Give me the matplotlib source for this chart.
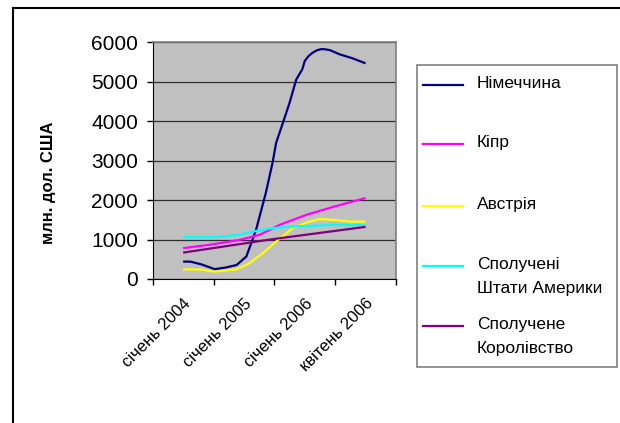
import matplotlib.pyplot as plt
from matplotlib.lines import Line2D
from matplotlib.patches import Rectangle

plt.rcParams['font.family'] = ['Liberation Sans', 'DejaVu Sans']

# category labels (x axis has 4 categories, labels at the centres)
categories = ['січень 2004', 'січень 2005', 'січень 2006', 'квітень 2006']

# values, x in category units
germany_x = [0.5, 0.62, 0.8, 1.02, 1.2, 1.38, 1.54, 1.7, 1.86, 1.97, 2.03,
             2.14, 2.25, 2.36, 2.46, 2.5, 2.56, 2.63, 2.7, 2.77, 2.84, 2.92,
             3.07, 3.28, 3.5]
germany_y = [440, 440, 370, 250, 290, 355, 570, 1250, 2180, 2940, 3450,
             3950, 4460, 5050, 5310, 5520, 5640, 5730, 5790, 5820, 5815, 5790,
             5690, 5590, 5460]

cyprus_x = [0.5, 1.0, 1.43, 1.76, 2.09, 2.53, 3.0, 3.5]
cyprus_y = [780, 880, 990, 1118, 1372, 1626, 1840, 2050]

austria_x = [0.5, 0.8, 1.02, 1.38, 1.59, 1.81, 2.03, 2.3, 2.53, 2.74, 2.96, 3.23, 3.5]
austria_y = [246, 240, 186, 246, 398, 652, 948, 1287, 1430, 1516, 1500, 1455, 1450]

usa_x = [0.5, 1.02, 1.43, 1.65, 1.97, 2.3, 2.63, 2.96, 3.5]
usa_y = [1058, 1058, 1118, 1202, 1287, 1330, 1346, 1372, 1360]

uk_x = [0.5, 1.97, 3.5]
uk_y = [668, 1008, 1320]

names = ['Німеччина', 'Кіпр', 'Австрія', 'Сполучені\nШтати Америки', 'Сполучене\nКоролівство']
colors = ['#000080', '#ff00ff', '#ffff00', '#00ffff', '#800080']
xs = [germany_x, cyprus_x, austria_x, usa_x, uk_x]
ys = [germany_y, cyprus_y, austria_y, usa_y, uk_y]

W, H = 620, 423
fig = plt.figure(figsize=(6.2, 4.23), dpi=100)
ax = fig.add_axes([152.7 / W, 1 - 279 / H, (396 - 152.7) / W, (279 - 42) / H])
ax.set_facecolor('#c0c0c0')

for x, y, c in zip(xs, ys, colors):
    ax.plot(x, y, color=c, lw=1.6, solid_capstyle='butt', solid_joinstyle='round')

ax.set_xlim(0, 4)
ax.set_ylim(0, 6000)
ax.set_yticks(range(0, 7000, 1000))
ax.yaxis.grid(True, color='#303030', lw=0.9)
ax.set_axisbelow(True)

ax.set_xticks([0, 1, 2, 3, 4])
ax.set_xticklabels([])
ax.set_xticks([0.5, 1.5, 2.5, 3.5], minor=True)
ax.set_xticklabels(categories, minor=True, rotation=45, ha='right',
                   rotation_mode='anchor', fontsize=12)
ax.tick_params(axis='x', which='minor', length=0, pad=12)
ax.tick_params(which='major', direction='out', length=4.5, width=1, color='black')
ax.tick_params(axis='y', labelsize=15, pad=6)

for s in ['top', 'right']:
    ax.spines[s].set_color('#808080')
    ax.spines[s].set_linewidth(1.2)
for s in ['left', 'bottom']:
    ax.spines[s].set_color('#000000')

fig.text(48 / W, 1 - 183 / H, 'млн. дол. США', fontsize=12, fontweight='bold',
         rotation=90, ha='center', va='center')

# chart frame (left and top edges visible)
fig.add_artist(Line2D([13 / W, 13 / W], [0, 1 - 8 / H], transform=fig.transFigure,
                      color='black', lw=1.5))
fig.add_artist(Line2D([13 / W, 1], [1 - 8 / H, 1 - 8 / H], transform=fig.transFigure,
                      color='black', lw=1.5))

# legend box drawn by hand
fig.add_artist(Rectangle((417 / W, 1 - 367 / H), (617 - 417) / W, (367 - 65) / H,
                         transform=fig.transFigure, facecolor='white',
                         edgecolor='#808080', lw=1.2))
entry_y = [85, 144, 206, 266, 326]
for name, c, ey in zip(names, colors, entry_y):
    fig.add_artist(Line2D([423 / W, 463 / W], [1 - ey / H, 1 - ey / H],
                          transform=fig.transFigure, color=c, lw=1.6))
    fig.text(477 / W, 1 - (ey - 9) / H, name, fontsize=12.5, va='top', ha='left',
             linespacing=1.75)

fig.savefig('out.png', dpi=100)
